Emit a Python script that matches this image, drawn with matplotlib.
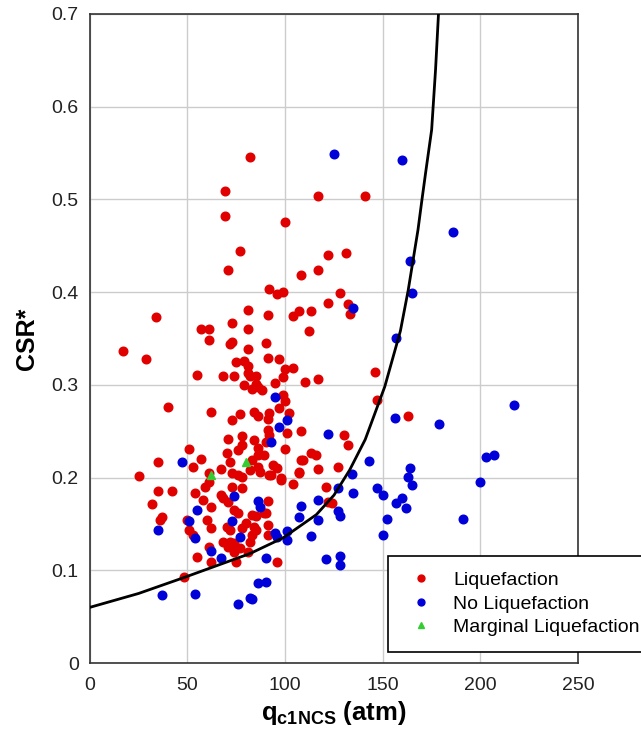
import matplotlib
matplotlib.use("Agg")
import matplotlib.pyplot as plt

plt.rcParams['font.family'] = ['Liberation Sans', 'DejaVu Sans']
plt.rcParams['mathtext.fontset'] = 'custom'
plt.rcParams['mathtext.rm'] = 'Liberation Sans'
plt.rcParams['mathtext.bf'] = 'Liberation Sans:bold'

# casos com liquefacao (q_c1NCS, CSR*)
liq = [
    (17, 0.336), (29, 0.328), (34, 0.373), (40, 0.276), (25, 0.202), (35, 0.217),
    (35, 0.186), (42, 0.185), (32, 0.172), (36, 0.154), (37, 0.157), (48, 0.093),
    (51, 0.231), (53, 0.211), (57, 0.220), (61, 0.205), (67, 0.209), (72, 0.217),
    (62, 0.271), (73, 0.262), (77, 0.268), (78, 0.245), (71, 0.242), (70, 0.227),
    (76, 0.230), (57, 0.360), (61, 0.360), (61, 0.348), (73, 0.367), (72, 0.344),
    (81, 0.381), (81, 0.360), (81, 0.339), (55, 0.311), (68, 0.309), (79, 0.326),
    (81, 0.313), (82, 0.546), (69, 0.509), (69, 0.482), (77, 0.444), (71, 0.424),
    (92, 0.403), (96, 0.398), (99, 0.400), (100, 0.476), (117, 0.504), (141, 0.504),
    (122, 0.440), (131, 0.442), (117, 0.424), (108, 0.418), (128, 0.399), (132, 0.387),
    (133, 0.376), (91, 0.375), (104, 0.374), (113, 0.380), (112, 0.358), (146, 0.314),
    (117, 0.306), (147, 0.284), (99, 0.289), (163, 0.266), (108, 0.250), (101, 0.248),
    (130, 0.246), (132, 0.235), (127, 0.211), (117, 0.209), (107, 0.206), (113, 0.226),
    (116, 0.224), (108, 0.219), (100, 0.231), (91, 0.329), (97, 0.328), (100, 0.317),
    (104, 0.318), (99, 0.308), (86, 0.298), (88, 0.294), (81, 0.320), (82, 0.310),
    (85, 0.301), (84, 0.271), (86, 0.266), (91, 0.263), (102, 0.270), (91, 0.251),
    (92, 0.246), (84, 0.240), (90, 0.238), (86, 0.232), (86, 0.224), (89, 0.224),
    (78, 0.235), (83, 0.219), (86, 0.211), (94, 0.214), (96, 0.210), (92, 0.203),
    (98, 0.200), (109, 0.219), (73, 0.205), (76, 0.203), (78, 0.201), (82, 0.208),
    (61, 0.195), (59, 0.190), (54, 0.183), (73, 0.190), (78, 0.189), (104, 0.193),
    (121, 0.190), (67, 0.181), (68, 0.178), (71, 0.174), (58, 0.176), (62, 0.168),
    (91, 0.175), (122, 0.174), (124, 0.173), (74, 0.165), (76, 0.162), (83, 0.160),
    (90, 0.162), (80, 0.151), (84, 0.147), (85, 0.143), (91, 0.149), (50, 0.154),
    (60, 0.154), (70, 0.147), (72, 0.143), (62, 0.146), (51, 0.143), (53, 0.138),
    (78, 0.146), (83, 0.138), (91, 0.138), (68, 0.130), (72, 0.130), (74, 0.129),
    (71, 0.125), (77, 0.124), (74, 0.120), (82, 0.130), (81, 0.120), (61, 0.125),
    (55, 0.114), (62, 0.109), (75, 0.109), (96, 0.109), (87, 0.206), (93, 0.203),
    (98, 0.197), (107, 0.205), (85, 0.159), (89, 0.162), (90, 0.345), (73, 0.346),
    (75, 0.325), (110, 0.303), (95, 0.302), (74, 0.309), (85, 0.309), (79, 0.300),
    (83, 0.296), (100, 0.283), (92, 0.270), (97, 0.275), (107, 0.380), (122, 0.388),
]

# casos sem liquefacao
noliq = [
    (47, 0.217), (35, 0.143), (37, 0.073), (54, 0.074), (76, 0.064), (82, 0.070),
    (51, 0.153), (54, 0.135), (55, 0.165), (62, 0.121), (67, 0.113), (74, 0.180),
    (73, 0.153), (77, 0.136), (86, 0.175), (87, 0.168), (101, 0.142), (95, 0.140),
    (101, 0.133), (96, 0.136), (90, 0.113), (86, 0.086), (90, 0.087), (83, 0.069),
    (108, 0.169), (107, 0.157), (117, 0.176), (117, 0.154), (113, 0.137), (121, 0.112),
    (128, 0.115), (128, 0.106), (127, 0.164), (128, 0.158), (127, 0.189), (135, 0.183),
    (134, 0.204), (143, 0.218), (147, 0.189), (150, 0.181), (157, 0.173), (160, 0.178),
    (162, 0.167), (152, 0.155), (150, 0.138), (163, 0.201), (164, 0.210), (165, 0.192),
    (179, 0.258), (217, 0.278), (203, 0.222), (207, 0.224), (200, 0.195), (191, 0.155),
    (156, 0.264), (122, 0.247), (95, 0.287), (97, 0.255), (101, 0.262), (93, 0.238),
    (135, 0.383), (157, 0.351), (164, 0.433), (165, 0.399), (160, 0.542), (186, 0.465),
    (125, 0.549),
]

# liquefacao marginal
marg = [(62, 0.203), (80, 0.217)]

# curva limite
curva_q = [0, 25, 48, 82, 99, 116, 125, 133, 141, 151, 159, 163, 168, 170, 172, 175, 177, 178.5]
curva_csr = [0.060, 0.075, 0.092, 0.118, 0.135, 0.160, 0.181, 0.208, 0.241, 0.298,
             0.358, 0.402, 0.467, 0.499, 0.530, 0.575, 0.640, 0.700]

fig = plt.figure(figsize=(6.41, 7.29), dpi=100)
ax = fig.add_axes([0.140, 0.0905, 0.762, 0.8905])

ax.plot([p[0] for p in liq], [p[1] for p in liq], 'o', color='#e00000',
        markersize=6.2, linestyle='none', label='Liquefaction', zorder=3)
ax.plot([p[0] for p in noliq], [p[1] for p in noliq], 'o', color='#0000d8',
        markersize=6.2, linestyle='none', label='No Liquefaction', zorder=3)
ax.plot([p[0] for p in marg], [p[1] for p in marg], '^', color='#33cc33',
        markersize=6, linestyle='none', label='Marginal Liquefaction', zorder=4)
ax.plot(curva_q, curva_csr, color='black', linewidth=2, zorder=5)

ax.set_xlim(0, 250)
ax.set_ylim(0, 0.7)
ax.set_xticks([0, 50, 100, 150, 200, 250])
ax.set_yticks([0, 0.1, 0.2, 0.3, 0.4, 0.5, 0.6, 0.7])
ax.set_yticklabels(['0', '0.1', '0.2', '0.3', '0.4', '0.5', '0.6', '0.7'])
ax.tick_params(length=0, labelsize=14, colors='#222222')
ax.tick_params(axis='x', pad=10)
ax.tick_params(axis='y', pad=8)
ax.grid(True, color='#cccccc', linewidth=1)
ax.set_axisbelow(True)
for s in ax.spines.values():
    s.set_color('#333333')
    s.set_linewidth(1.2)

ax.set_xlabel(r'$\mathbf{q_{c1NCS}}$ (atm)', fontsize=18.5, fontweight='bold', labelpad=4)
ax.set_ylabel('CSR*', fontsize=18, fontweight='bold', labelpad=9)

# legenda passa da borda direita, como no original
leg = ax.legend(loc='upper left', bbox_to_anchor=(0.611, 0.165), fontsize=14,
                frameon=True, fancybox=False, edgecolor='black', framealpha=1,
                handletextpad=0.8, borderpad=0.8, labelspacing=0.3,
                markerscale=0.8, handlelength=1.75, borderaxespad=0)
leg.get_frame().set_linewidth(1.2)

fig.savefig('out.png', dpi=100)
